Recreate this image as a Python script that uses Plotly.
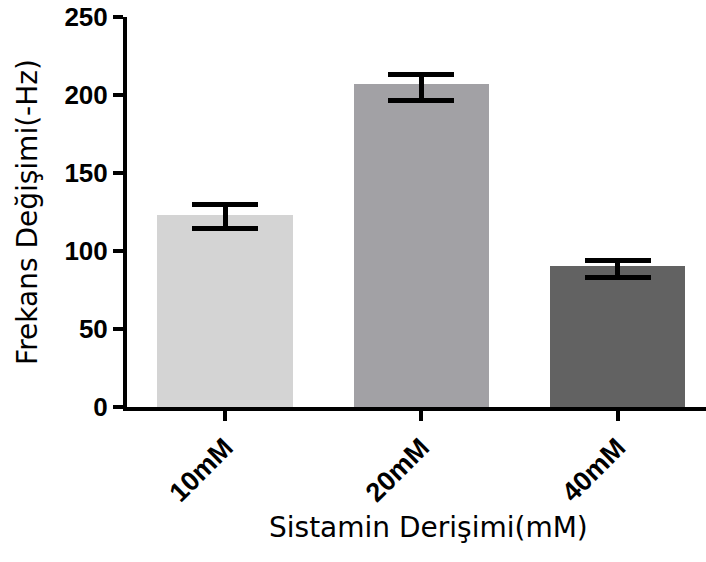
import plotly.graph_objects as go

categories = ["10mM", "20mM", "40mM"]
means = [123.1, 206.9, 90.6]
err_plus = [6.6, 6.0, 3.4]
err_minus = [8.6, 10.3, 7.4]
colors = ["#d4d4d4", "#a2a1a5", "#626262"]
y_ticks = [0, 50, 100, 150, 200, 250]
x_title = "Sistamin Derişimi(mM)"
y_title = "Frekans Değişimi(-Hz)"

x_pos = list(range(len(categories)))

fig = go.Figure()
fig.add_trace(go.Bar(
    x=x_pos, y=means, width=0.69,
    marker=dict(color=colors, line=dict(width=0)),
    error_y=dict(type="data", symmetric=False, array=err_plus, arrayminus=err_minus,
                 color="black", thickness=5, width=33),
    showlegend=False,
))

fig.update_layout(
    width=706, height=562,
    margin=dict(l=127, r=0, t=17, b=155),
    paper_bgcolor="white", plot_bgcolor="white",
    font=dict(family="Liberation Sans, Arial, sans-serif", color="black"),
    xaxis=dict(
        range=[-0.5, 2.45],
        tickmode="array", tickvals=x_pos, ticktext=categories,
        tickangle=-45,
        tickfont=dict(size=27, weight="bold"),
        showline=True, linecolor="black", linewidth=4,
        ticks="outside", ticklen=10, tickwidth=4, tickcolor="black",
        showgrid=False, zeroline=False,
    ),
    yaxis=dict(
        range=[0, 250],
        tickmode="array", tickvals=y_ticks,
        tickfont=dict(size=26, weight="bold"),
        showline=True, linecolor="black", linewidth=4,
        ticks="outside", ticklen=10, tickwidth=4, tickcolor="black",
        showgrid=False, zeroline=False,
        title=dict(text=y_title,
                   font=dict(family="DejaVu Sans", size=28), standoff=20),
    ),
    annotations=[dict(
        text=x_title, xref="paper", yref="paper",
        x=0.52, y=-0.262, xanchor="center", yanchor="top",
        showarrow=False, font=dict(family="DejaVu Sans", size=28, color="black"),
    )],
    bargap=0,
)

fig.write_html("out.html")
